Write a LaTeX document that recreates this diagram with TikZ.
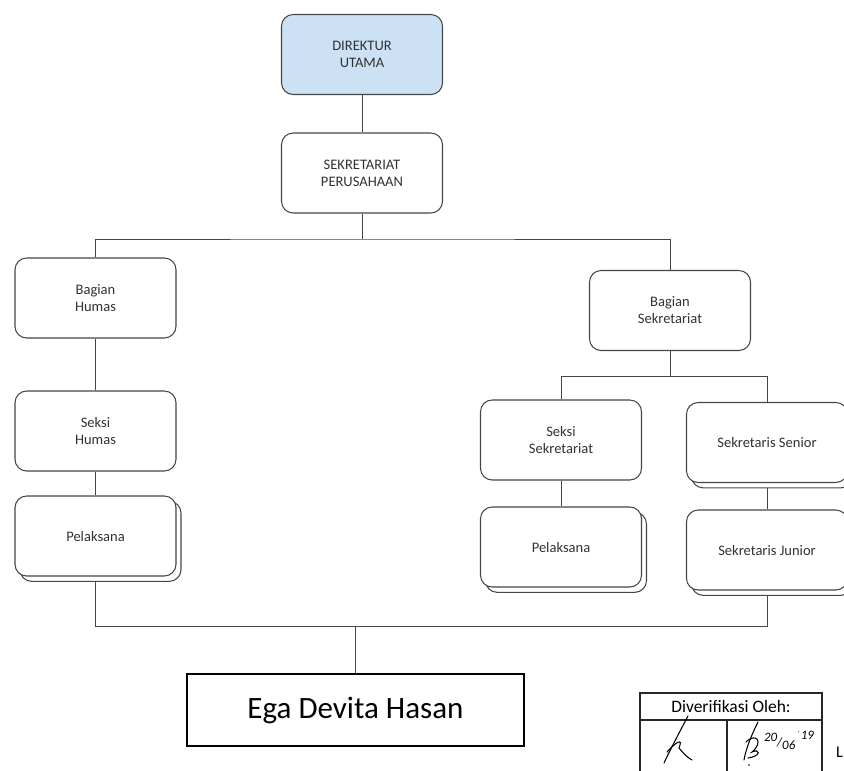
\documentclass[tikz,border=0pt]{standalone}
\usepackage{fontspec}
\setmainfont{Carlito}
\usepackage{xcolor}
\usepackage{tikz}
\usetikzlibrary{positioning,shadows,backgrounds}
\definecolor{boxline}{RGB}{70,70,70}
\definecolor{boxtext}{RGB}{50,50,50}
\definecolor{headfill}{RGB}{204,226,244}
\tikzset{
	unit/.style={draw=boxline, line width=0.9pt, rounded corners=3.5mm, fill=white, align=center,
		minimum width=4.83cm, minimum height=2.4cm, inner sep=1mm, text=boxtext,
		font=\fontsize{12.4}{14.5}\selectfont},
	head/.style={unit, fill=headfill},
	staff/.style={unit, copy shadow={shadow xshift=1.5mm, shadow yshift=-1.6mm, draw=boxline, fill=white, line width=0.9pt}},
	link/.style={draw=boxline, line width=0.8pt},
	holder/.style={draw=black, line width=1.6pt, minimum width=10.1cm, minimum height=2.16cm,
		font=\fontsize{26.5}{30}\selectfont},
	stamp/.style={draw=black!85, line width=1.3pt}
}

\begin{document}
\begin{tikzpicture}[x=0.03cm, y=-0.03cm]
	\useasboundingbox (0,0) rectangle (844,770);
	\clip (0,0) rectangle (844,770);

	% Top of the chart is drawn.
	\node[head] (direktur) at (362,54.5) {DIREKTUR\\UTAMA};
	\node[unit] (sekper) at (362,173) {SEKRETARIAT\\PERUSAHAAN};

	% Humas branch is drawn.
	\node[unit] (bag-humas) at (95.5,298) {Bagian\\Humas};
	\node[unit] (seksi-humas) at (95.5,431) {Seksi\\Humas};
	\node[staff] (pel-humas) at (95.5,536) {Pelaksana};

	% Sekretariat branch is drawn.
	\node[unit] (bag-sekre) at (670,310.5) {Bagian\\Sekretariat};
	\node[unit] (seksi-sekre) at (561,440) {Seksi\\Sekretariat};
	\node[staff] (pel-sekre) at (561,547) {Pelaksana};
	\node[staff] (senior) at (767,442.5) {Sekretaris Senior};
	\node[staff] (junior) at (767,550) {Sekretaris Junior};

	\node[holder] (ega) at (355.5,710) {Ega Devita Hasan};

	\coordinate (bus-top) at (362,239);
	\coordinate (bus-mid) at (670,376);
	\coordinate (bus-bot) at (355.5,626);

	\begin{scope}[on background layer]
		\draw[link] (direktur.south) -- (sekper.north);
		\draw[link] (sekper.south) -- (bus-top);
		\draw[link] (bag-humas.north) |- (bus-top) -| (bag-sekre.north);
		\draw[link] (bag-humas.south) -- (seksi-humas.north);
		\draw[link] (seksi-humas.south) -- (pel-humas.north);
		\draw[link] (bag-sekre.south) -- (bus-mid);
		\draw[link] (seksi-sekre.north) |- (bus-mid) -| (senior.north);
		\draw[link] (seksi-sekre.south) -- (pel-sekre.north);
		\draw[link] (senior.south) -- (junior.north);
		\draw[link] (pel-humas.south) |- (bus-bot) -| (junior.south);
		\draw[link] (bus-bot) -- (ega.north);
	\end{scope}

	% Verification stamp is drawn.
	\draw[stamp] (640,693) rectangle (822,790);
	\draw[stamp] (640,720) -- (822,720);
	\draw[stamp] (727,720) -- (727,790);
	\node[font=\fontsize{14.9}{17}\selectfont] (verif) at (731,706.5) {Diverifikasi Oleh:};
	\draw[line width=0.9pt, line cap=round] (688,716) .. controls (678,735) and (670,750) .. (664,763);
	\draw[line width=0.9pt, line cap=round] (667,752) .. controls (674,744) and (684,736) .. (679,748)
		.. controls (684,754) and (688,758) .. (692,760);
	\draw[line width=0.9pt, line cap=round] (758,722) .. controls (752,734) and (746,748) .. (744,760);
	\draw[line width=0.9pt, line cap=round] (746,742) .. controls (756,732) and (764,742) .. (752,752)
		.. controls (760,748) and (762,756) .. (748,758);
	\fill (749,765) circle (0.9);
	\node[font=\itshape\fontsize{11}{11}\selectfont] (tanggal) at (789,740)
		{\raisebox{0.9ex}{20}/\raisebox{-0.5ex}{06}\,\raisebox{1.2ex}{$^{\cdot}$19}};
	\node[anchor=west, font=\fontsize{14}{16}\selectfont] (sisa) at (832,752) {L};
\end{tikzpicture}
\end{document}
